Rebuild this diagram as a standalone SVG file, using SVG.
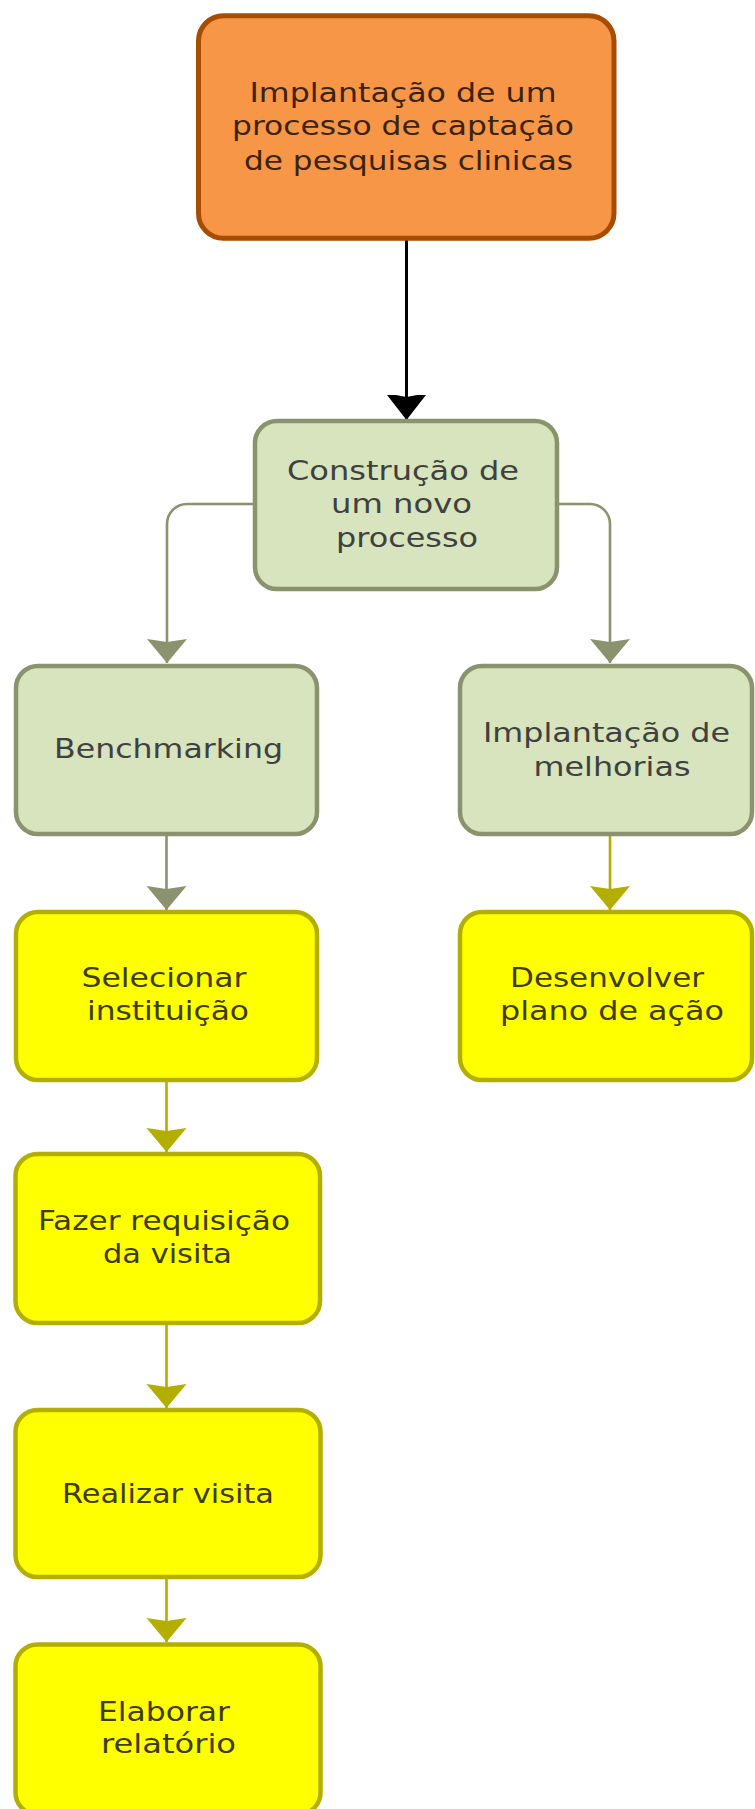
<svg xmlns="http://www.w3.org/2000/svg" width="755" height="1809" viewBox="0 0 755 1809">
<style>
.t{font-family:"DejaVu Sans","Liberation Sans",sans-serif;font-size:27px;text-anchor:middle}
.orange rect{fill:#F79646;stroke:#A84C00;stroke-width:5}
.green rect{fill:#D7E4BD;stroke:#8A936E;stroke-width:4.5}
.yellow rect{fill:#FFFF00;stroke:#B3AE00;stroke-width:4.5}
.orange text{fill:#3A2410}
.green text{fill:#404040}
.yellow text{fill:#3E3C00}
.c{fill:none;stroke-width:2.6}
.cb{stroke:#000000;stroke-width:3;marker-end:url(#mb)}
.cg{stroke:#8A936E;marker-end:url(#mg)}
.cy{stroke:#B3AE00;marker-end:url(#my)}
</style>
<defs>
<marker id="mb" markerUnits="userSpaceOnUse" viewBox="-25 -21 26 42" refX="0" refY="0" markerWidth="26" markerHeight="42" orient="auto"><path d="M0,0 L-27,-21 L-23,0 L-27,21 Z" fill="#000000"/></marker>
<marker id="mg" markerUnits="userSpaceOnUse" viewBox="-25 -21 26 42" refX="0" refY="0" markerWidth="26" markerHeight="42" orient="auto"><path d="M0,0 L-24,-20 L-21,0 L-24,20 Z" fill="#8A936E"/></marker>
<marker id="my" markerUnits="userSpaceOnUse" viewBox="-25 -21 26 42" refX="0" refY="0" markerWidth="26" markerHeight="42" orient="auto"><path d="M0,0 L-24,-20 L-21,0 L-24,20 Z" fill="#B3AE00"/></marker>
</defs>
<g id="connectors">
<path class="c cb" d="M406.5,240 V420"/>
<path class="c cg" d="M255,504 H187 A20,20 0 0 0 167,524 V663"/>
<path class="c cg" d="M557,504 H590 A20,20 0 0 1 610,524 V663"/>
<path class="c cg" d="M166.5,834 V910"/>
<path class="c cy" d="M610,834 V910"/>
<path class="c cy" d="M166.5,1080 V1152"/>
<path class="c cy" d="M166.5,1323 V1408"/>
<path class="c cy" d="M166.5,1577 V1642"/>
</g>
<g id="n1" class="orange">
<rect x="198.5" y="15.8" width="415.5" height="222.5" rx="25"/>
<text class="t" x="403" y="102" textLength="307" lengthAdjust="spacingAndGlyphs">Implantação de um</text>
<text class="t" x="403" y="135" textLength="342" lengthAdjust="spacingAndGlyphs">processo de captação</text>
<text class="t" x="408.5" y="170" textLength="329" lengthAdjust="spacingAndGlyphs">de pesquisas clinicas</text>
</g>
<g id="n2" class="green">
<rect x="255" y="421" width="302" height="168" rx="22"/>
<text class="t" x="403" y="480" textLength="232" lengthAdjust="spacingAndGlyphs">Construção de</text>
<text class="t" x="401.5" y="513" textLength="141" lengthAdjust="spacingAndGlyphs">um novo</text>
<text class="t" x="407" y="547" textLength="142" lengthAdjust="spacingAndGlyphs">processo</text>
</g>
<g id="n3" class="green">
<rect x="16" y="666" width="301" height="168" rx="22"/>
<text class="t" x="168.5" y="758" textLength="229" lengthAdjust="spacingAndGlyphs">Benchmarking</text>
</g>
<g id="n4" class="green">
<rect x="460" y="666" width="292" height="168" rx="22"/>
<text class="t" x="606.5" y="742" textLength="247" lengthAdjust="spacingAndGlyphs">Implantação de</text>
<text class="t" x="612" y="776" textLength="157" lengthAdjust="spacingAndGlyphs">melhorias</text>
</g>
<g id="n5" class="yellow">
<rect x="16" y="912" width="301" height="168" rx="22"/>
<text class="t" x="164" y="987" textLength="165" lengthAdjust="spacingAndGlyphs">Selecionar</text>
<text class="t" x="168" y="1020" textLength="162" lengthAdjust="spacingAndGlyphs">instituição</text>
</g>
<g id="n6" class="yellow">
<rect x="460" y="912" width="292" height="168" rx="22"/>
<text class="t" x="607" y="987" textLength="194" lengthAdjust="spacingAndGlyphs">Desenvolver</text>
<text class="t" x="612" y="1020" textLength="224" lengthAdjust="spacingAndGlyphs">plano de ação</text>
</g>
<g id="n7" class="yellow">
<rect x="15.5" y="1154" width="304.5" height="169" rx="22"/>
<text class="t" x="164" y="1230" textLength="252" lengthAdjust="spacingAndGlyphs">Fazer requisição</text>
<text class="t" x="167.5" y="1263" textLength="129" lengthAdjust="spacingAndGlyphs">da visita</text>
</g>
<g id="n8" class="yellow">
<rect x="15.5" y="1410" width="305" height="167" rx="22"/>
<text class="t" x="168" y="1503" textLength="212" lengthAdjust="spacingAndGlyphs">Realizar visita</text>
</g>
<g id="n9" class="yellow">
<rect x="15.5" y="1644.5" width="305" height="170" rx="22"/>
<text class="t" x="164" y="1721" textLength="132" lengthAdjust="spacingAndGlyphs">Elaborar</text>
<text class="t" x="168.5" y="1753" textLength="135" lengthAdjust="spacingAndGlyphs">relatório</text>
</g>
</svg>
